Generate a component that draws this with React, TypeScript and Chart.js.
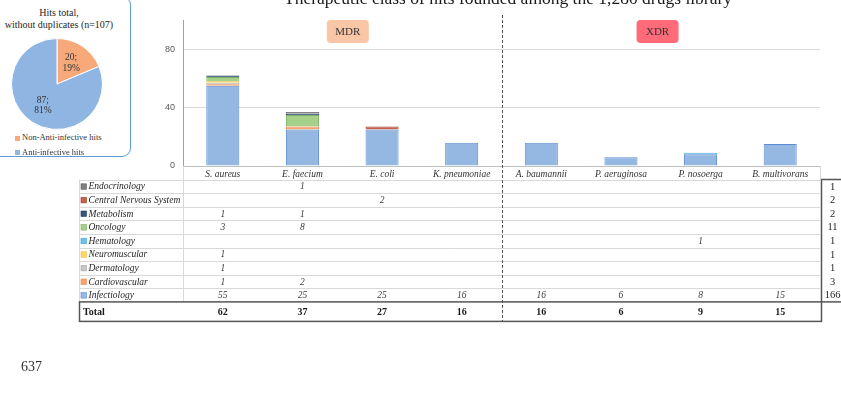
import React, { useEffect, useRef } from 'react';
import { Chart, registerables } from 'chart.js';

Chart.register(...registerables);

// ---------------- data ----------------
const categories = ['S. aureus', 'E. faecium', 'E. coli', 'K. pneumoniae', 'A. baumannii', 'P. aeruginosa', 'P. nosoerga', 'B. multivorans'];
const infectiology = [55, 25, 25, 16, 16, 6, 8, 15];
const cardiovascular = [1, 2, 0, 0, 0, 0, 0, 0];
const dermatology = [1, 0, 0, 0, 0, 0, 0, 0];
const neuromuscular = [1, 0, 0, 0, 0, 0, 0, 0];
const hematology = [0, 0, 0, 0, 0, 0, 1, 0];
const oncology = [3, 8, 0, 0, 0, 0, 0, 0];
const metabolism = [1, 1, 0, 0, 0, 0, 0, 0];
const centralNervous = [0, 0, 2, 0, 0, 0, 0, 0];
const endocrinology = [0, 1, 0, 0, 0, 0, 0, 0];

const seriesNames = ['Infectiology', 'Cardiovascular', 'Dermatology', 'Neuromuscular', 'Hematology', 'Oncology', 'Metabolism', 'Central Nervous System', 'Endocrinology'];
const seriesValues = [infectiology, cardiovascular, dermatology, neuromuscular, hematology, oncology, metabolism, centralNervous, endocrinology];

const yTicks = [0, 40, 80];
const yMax = 100;

const groupLabels = ['MDR', 'XDR'];
const groupCenters = [1.57, 5.46];
const groupSplit = 3.5;

const mainTitle = 'Therapeutic class of hits founded among the 1,280 drugs library';
const pieTitle = ['Hits total,', 'without duplicates (n=107)'];
const pieLabels = ['Non-Anti-infective hits', 'Anti-infective hits'];
const pieValues = [20, 87];

// ---------------- styles ----------------
const seriesFill = ['#95B8E3', '#F7A46F', '#C9C9C9', '#FFD966', '#6CC3E8', '#A5D08A', '#34557E', '#C8604A', '#7F7F7F'];
const seriesBorder = ['#5B8DD0', '#E98A4E', '#A6A6A6', '#E8B93A', '#3FA5D4', '#7EAE5E', '#243F60', '#A2402E', '#5F5F5F'];
const groupFill = ['#F9C6A6', '#FF6B78'];
const pieFill = ['#F7A97A', '#8FB5E3'];

const SERIF = '"Liberation Serif", "Times New Roman", serif';

const tablePlugin = {
  id: 'tablePlugin',
  afterDraw(chart: any) {
    const ctx = chart.ctx;
    const xs = chart.scales.x;
    const area = chart.chartArea;
    const n = categories.length;
    const tblLeft = 79.5;
    const headTop = area.bottom;
    const rowTop = 179.5;
    const rowH = 13.6;
    const rowIdx = seriesNames.map((_, i) => i).reverse();
    const totalTop = rowTop + rowIdx.length * rowH;
    const totalBottom = totalTop + 19.5;
    ctx.save();

    // light grid
    ctx.strokeStyle = '#D9D9D9';
    ctx.lineWidth = 1;
    ctx.beginPath();
    for (let k = 0; k < rowIdx.length; k++) {
      const y = Math.round(rowTop + k * rowH) + 0.5;
      ctx.moveTo(tblLeft, y);
      ctx.lineTo(area.right, y);
    }
    ctx.moveTo(tblLeft, rowTop);
    ctx.lineTo(tblLeft, totalTop);
    ctx.moveTo(Math.round(area.left) + 0.5, headTop);
    ctx.lineTo(Math.round(area.left) + 0.5, totalTop);
    ctx.moveTo(Math.round(area.right) + 0.5, headTop);
    ctx.lineTo(Math.round(area.right) + 0.5, rowTop);
    ctx.stroke();

    // rows
    ctx.textBaseline = 'middle';
    rowIdx.forEach((si, k) => {
      const cy = rowTop + k * rowH + rowH / 2 + 0.5;
      ctx.fillStyle = seriesFill[si];
      ctx.fillRect(81, cy - 3, 5.5, 5.5);
      ctx.strokeStyle = seriesBorder[si];
      ctx.lineWidth = 0.6;
      ctx.strokeRect(81, cy - 3, 5.5, 5.5);
      ctx.fillStyle = '#262626';
      ctx.font = 'italic 9.5px ' + SERIF;
      ctx.textAlign = 'left';
      ctx.fillText(seriesNames[si], 88.5, cy);
      ctx.fillStyle = '#404040';
      seriesValues[si].forEach((v, ci) => {
        if (!v) return;
        ctx.textAlign = 'center';
        ctx.fillText(String(v), xs.getPixelForValue(ci), cy);
      });
      const rowSum = seriesValues[si].reduce((a, b) => a + b, 0);
      ctx.fillStyle = '#262626';
      ctx.font = '10.5px ' + SERIF;
      ctx.textAlign = 'center';
      ctx.fillText(String(rowSum), 832.5, cy);
    });

    // total row
    ctx.strokeStyle = '#555555';
    ctx.lineWidth = 1.5;
    ctx.strokeRect(tblLeft, totalTop, area.right + 1.5 - tblLeft, totalBottom - totalTop);
    ctx.strokeRect(area.right + 1.5, rowTop, 40, totalTop - rowTop);
    ctx.font = 'bold 10px ' + SERIF;
    ctx.fillStyle = '#1a1a1a';
    ctx.textAlign = 'left';
    const ty = (totalTop + totalBottom) / 2 + 0.5;
    ctx.fillText('Total', 83, ty);
    ctx.textAlign = 'center';
    for (let ci = 0; ci < n; ci++) {
      const s = seriesValues.reduce((a, arr) => a + arr[ci], 0);
      ctx.fillText(String(s), xs.getPixelForValue(ci), ty);
    }

    // dashed split line
    const xSplit = Math.round(xs.getPixelForValue(groupSplit)) + 0.5;
    ctx.strokeStyle = '#555555';
    ctx.lineWidth = 1;
    ctx.setLineDash([3, 2]);
    ctx.beginPath();
    ctx.moveTo(xSplit, 15);
    ctx.lineTo(xSplit, totalBottom);
    ctx.stroke();
    ctx.setLineDash([]);

    // group labels
    groupLabels.forEach((g, i) => {
      const cx = xs.getPixelForValue(groupCenters[i]);
      const w = 42, h = 23, x0 = cx - w / 2, y0 = 20;
      ctx.fillStyle = groupFill[i];
      ctx.beginPath();
      (ctx as any).roundRect(x0, y0, w, h, 4);
      ctx.fill();
      ctx.fillStyle = '#333333';
      ctx.font = '11px ' + SERIF;
      ctx.textAlign = 'center';
      ctx.textBaseline = 'middle';
      ctx.fillText(g, cx, y0 + h / 2 + 0.5);
    });
    ctx.restore();
  },
};

const pieLabelPlugin = {
  id: 'pieLabelPlugin',
  afterDatasetsDraw(chart: any) {
    const ctx = chart.ctx;
    const meta = chart.getDatasetMeta(0);
    const total = pieValues.reduce((a, b) => a + b, 0);
    ctx.save();
    ctx.font = '9.5px ' + SERIF;
    ctx.fillStyle = '#333333';
    ctx.textAlign = 'center';
    ctx.textBaseline = 'middle';
    meta.data.forEach((arc: any, i: number) => {
      const p = arc.getProps(['x', 'y', 'startAngle', 'endAngle', 'outerRadius'], true);
      const mid = (p.startAngle + p.endAngle) / 2;
      const r = p.outerRadius * 0.56;
      const cx = p.x + Math.cos(mid) * r;
      const cy = p.y + Math.sin(mid) * r;
      const v = pieValues[i];
      ctx.fillText(v + ';', cx, cy - 5);
      ctx.fillText(Math.round((v / total) * 100) + '%', cx, cy + 5.5);
    });
    ctx.restore();
  },
};

export default function App() {
  const mainRef = useRef<HTMLCanvasElement>(null);
  const pieRef = useRef<HTMLCanvasElement>(null);

  useEffect(() => {
    const main = new Chart(mainRef.current as HTMLCanvasElement, {
      type: 'bar',
      data: {
        labels: categories,
        datasets: seriesNames.map((name, i) => ({
          label: name,
          data: seriesValues[i].map((v) => (v ? v : null)),
          backgroundColor: seriesFill[i],
          borderColor: seriesBorder[i],
          borderWidth: 1,
          categoryPercentage: 1,
          barPercentage: 0.415,
        })) as any,
      },
      options: {
        animation: false,
        responsive: false,
        maintainAspectRatio: false,
        devicePixelRatio: 1,
        layout: { padding: { left: 143, right: 21, top: 20, bottom: 0 } },
        plugins: { legend: { display: false }, tooltip: { enabled: false } },
        scales: {
          x: {
            stacked: true,
            grid: { display: false, drawTicks: false },
            border: { color: '#BFBFBF' },
            ticks: {
              color: '#333333',
              font: { family: SERIF, style: 'italic', size: 9.5 },
              padding: 3,
              maxRotation: 0,
              autoSkip: false,
            },
            afterFit: (s: any) => {
              s.height = 231;
            },
          },
          y: {
            stacked: true,
            min: 0,
            max: yMax,
            afterBuildTicks: (s: any) => {
              s.ticks = yTicks.map((v) => ({ value: v }));
            },
            afterFit: (s: any) => {
              s.width = 40;
            },
            grid: {
              drawTicks: false,
              color: (c: any) => (c.tick && c.tick.value === 0 ? 'rgba(0,0,0,0)' : '#D9D9D9'),
            },
            border: { color: '#7EA6D8' },
            ticks: {
              color: '#595959',
              font: { family: '"Liberation Sans", Arial, sans-serif', size: 9 },
              padding: 8,
            },
          },
        },
      } as any,
      plugins: [tablePlugin],
    });

    const pie = new Chart(pieRef.current as HTMLCanvasElement, {
      type: 'pie',
      data: {
        labels: pieLabels,
        datasets: [
          {
            data: pieValues,
            backgroundColor: pieFill,
            borderColor: '#ffffff',
            borderWidth: 1,
          },
        ],
      },
      options: {
        animation: false,
        responsive: false,
        maintainAspectRatio: false,
        devicePixelRatio: 1,
        layout: { padding: 0 },
        plugins: { legend: { display: false }, tooltip: { enabled: false } },
      } as any,
      plugins: [pieLabelPlugin],
    });

    return () => {
      main.destroy();
      pie.destroy();
    };
  }, []);

  return (
    <div
      style={{
        position: 'fixed',
        left: 0,
        top: 0,
        width: 841,
        height: 397,
        overflow: 'hidden',
        background: '#ffffff',
        fontFamily: SERIF,
        color: '#262626',
      }}
    >
      <canvas ref={mainRef} width={841} height={397} style={{ position: 'absolute', left: 0, top: 0 }} />
      <div
        style={{
          position: 'absolute',
          left: 508,
          top: -10,
          transform: 'translateX(-50%)',
          whiteSpace: 'nowrap',
          fontSize: 17.5,
          lineHeight: '17.5px',
          color: '#1a1a1a',
        }}
      >
        {mainTitle}
      </div>
      <div
        style={{
          position: 'absolute',
          left: -14,
          top: -4,
          width: 145,
          height: 161,
          boxSizing: 'border-box',
          border: '1.5px solid #5B9BD5',
          borderRadius: 9,
          background: '#ffffff',
        }}
      />
      <div
        style={{
          position: 'absolute',
          left: 0,
          top: 7,
          width: 118,
          textAlign: 'center',
          fontSize: 10,
          lineHeight: '11.5px',
          color: '#262626',
        }}
      >
        {pieTitle[0]}
        <br />
        {pieTitle[1]}
      </div>
      <canvas ref={pieRef} width={92} height={92} style={{ position: 'absolute', left: 11, top: 38 }} />
      {pieLabels.map((l, i) => (
        <div
          key={l}
          style={{
            position: 'absolute',
            left: 15,
            top: 132 + i * 14.5,
            fontSize: 8.5,
            lineHeight: '10px',
            whiteSpace: 'nowrap',
            color: '#333333',
          }}
        >
          <span
            style={{
              display: 'inline-block',
              width: 5,
              height: 5,
              background: pieFill[i],
              marginRight: 2,
              verticalAlign: 'middle',
            }}
          />
          {l}
        </div>
      ))}
      <div style={{ position: 'absolute', left: 22, top: 331, height: 3, overflow: 'hidden', width: 30 }}>
        <div style={{ position: 'relative', top: -11, fontSize: 14, lineHeight: '14px', color: '#999' }}>636</div>
      </div>
      <div style={{ position: 'absolute', left: 21, top: 360, fontSize: 14, lineHeight: '14px', color: '#333' }}>637</div>
    </div>
  );
}
